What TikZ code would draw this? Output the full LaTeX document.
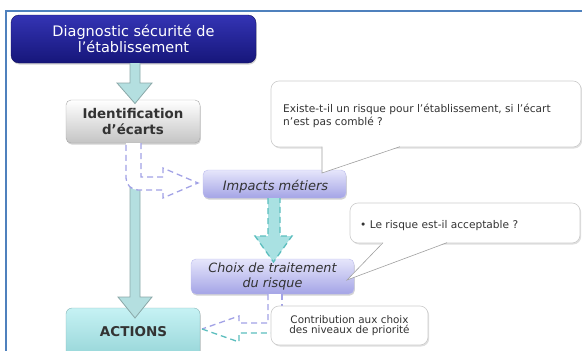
\documentclass[tikz,border=0pt]{standalone}
\usepackage{fontspec}
\setmainfont{DejaVu Sans}
\usetikzlibrary{shadows,calc}
\definecolor{frameblue}{HTML}{4F81BD}
\definecolor{navytop}{HTML}{3434B4}
\definecolor{navybot}{HTML}{16167A}
\definecolor{navyedge}{HTML}{101060}
\definecolor{lavtop}{HTML}{E6E6FB}
\definecolor{lavbot}{HTML}{A4A4E6}
\definecolor{lavedge}{HTML}{BDBDEE}
\definecolor{lavline}{HTML}{A2A2E6}
\definecolor{tealtop}{HTML}{C6F2F4}
\definecolor{tealbot}{HTML}{8CCFD2}
\definecolor{tealboxedge}{HTML}{86B4B6}
\definecolor{tealfill}{HTML}{B4DFE0}
\definecolor{tealedge}{HTML}{8AA8A8}
\definecolor{tealdash}{HTML}{5CBEBE}
\definecolor{tealdashfill}{HTML}{A9E1E2}
\definecolor{txtgray}{HTML}{333333}
\definecolor{bubedge}{HTML}{CCCCCC}
\definecolor{tailedge}{HTML}{A0A0A0}
\definecolor{graybot}{HTML}{C4C4C4}
\definecolor{grayedge}{HTML}{A8A8A8}
\begin{document}
\begin{tikzpicture}[x=1pt,y=-1pt,
  box/.style={rectangle, inner sep=0pt, rounded corners=5pt,
    drop shadow={shadow xshift=0.8pt, shadow yshift=-1.6pt, opacity=0.35}},
  bubble/.style={rectangle, inner sep=0pt, rounded corners=8pt, fill=white, draw=bubedge, line width=0.6pt,
    drop shadow={shadow xshift=1.2pt, shadow yshift=-1.5pt, opacity=0.25}},
  bigarrow/.style={fill=tealfill, draw=tealedge, line width=0.8pt, line join=miter},
  dsh/.style={dash pattern=on 6pt off 4pt, line width=1.3pt},
  btext/.style={text=txtgray, inner sep=0pt}
]
\useasboundingbox (0,0) rectangle (582,351);
\clip (0,0) rectangle (582,351);
\draw[frameblue, line width=2pt] (6,360) -- (6,11) -- (590,11);

% boxes
\node[box, rounded corners=8pt, top color=navytop, bottom color=navybot, draw=navyedge,
  minimum width=245pt, minimum height=48pt, text=white,
  font=\fontsize{14.5}{16}\selectfont, align=center] (diag) at (133.5,39)
  {Diagnostic sécurité de\\l’établissement};
\node[box, top color=white, bottom color=graybot, draw=grayedge,
  minimum width=134pt, minimum height=43pt, text=txtgray,
  font=\bfseries\fontsize{13.4}{16}\selectfont, align=center] (ident) at (133,121.5)
  {Identification\\d’écarts};
\node[box, rounded corners=6pt, top color=tealtop, bottom color=tealbot, draw=tealboxedge,
  minimum width=134pt, minimum height=60pt] (actions) at (133,338) {};
\node[btext, font=\bfseries\fontsize{13.5}{16}\selectfont, anchor=base] (actlbl) at (133.5,336.5) {ACTIONS};

% big arrows
\draw[bigarrow] (130,63) -- (130,83) -- (117,83) -- (135,103.5) -- (152,83) -- (140,83) -- (140,63);
\draw[bigarrow] (130,143) -- (130,297) -- (118,297) -- (135,318) -- (152,297) -- (140,297) -- (140,143);

% lavender boxes
\node[box, top color=lavtop, bottom color=lavbot, draw=lavedge,
  minimum width=143pt, minimum height=28pt] (impacts) at (274.5,184) {};
\node[btext, font=\itshape\fontsize{13}{15}\selectfont, anchor=base] (implbl) at (275.5,190) {Impacts métiers};
\node[box, top color=lavtop, bottom color=lavbot, draw=lavedge,
  minimum width=163pt, minimum height=35pt] (choix) at (272.5,276.5) {};
\node[btext, font=\itshape\fontsize{12.8}{14.5}\selectfont, align=center] (choixlbl) at (272.5,276.5)
  {Choix de traitement\\du risque};

% teal dashed arrow impacts -> choix
\draw[dsh, draw=tealdash, fill=tealdashfill] (268,198) -- (268,236) -- (255,236) -- (273.5,262) -- (292,236) -- (280,236) -- (280,198);

% lavender dashed arrow ident -> impacts
\draw[dsh, draw=lavline, fill=white] (141,143) -- (141,177) -- (163,177) -- (163,168) -- (198,183)
  -- (163,198) -- (163,190) -- (138,190) .. controls (131.4,190) and (126,184.6) .. (126,178) -- (126,143);

% dashed arrow choix -> actions
\fill[white] (268,294) -- (268,323) -- (239,323) -- (239,316) -- (202,329) -- (239,342) -- (239,333) -- (282,333) -- (282,294) -- cycle;
\draw[dsh, draw=lavline] (282,294) -- (282,333);
\draw[dsh, draw=lavline] (268,294) -- (268,323) -- (239,323) -- (239,316) -- (202,329);
\draw[dsh, draw=tealdash] (202,329) -- (239,342) -- (239,333) -- (282,333);

% bubble 1
\node[bubble, minimum width=310pt, minimum height=66pt] (bub1) at (426,114) {};
\fill[white] (321.5,146) -- (322,173) -- (401,146) -- cycle;
\draw[tailedge, line width=0.6pt] (322,146.7) -- (322,173) -- (400,146.7);
\node[btext, anchor=north west, align=left, font=\fontsize{10.6}{12.5}\selectfont] (bub1txt) at (283,104.3)
  {Existe-t-il un risque pour l’établissement, si l’écart\\n’est pas comblé ?};

% bubble 2
\node[bubble, minimum width=230pt, minimum height=40pt] (bub2) at (465,223) {};
\fill[white] (383,242) -- (347,280) -- (447,242) -- cycle;
\draw[tailedge, line width=0.6pt] (383,242.7) -- (347,280) -- (447,242.7);
\node[btext, anchor=base west, font=\fontsize{10.6}{12.5}\selectfont] (bub2txt) at (360,228.3)
  {• Le risque est-il acceptable ?};

% bubble 3
\node[bubble, minimum width=157pt, minimum height=39pt, text=txtgray, align=center,
  font=\fontsize{10.4}{10}\selectfont] (bub3) at (349.5,325.5)
  {Contribution aux choix\\des niveaux de priorité};
\end{tikzpicture}
\end{document}
